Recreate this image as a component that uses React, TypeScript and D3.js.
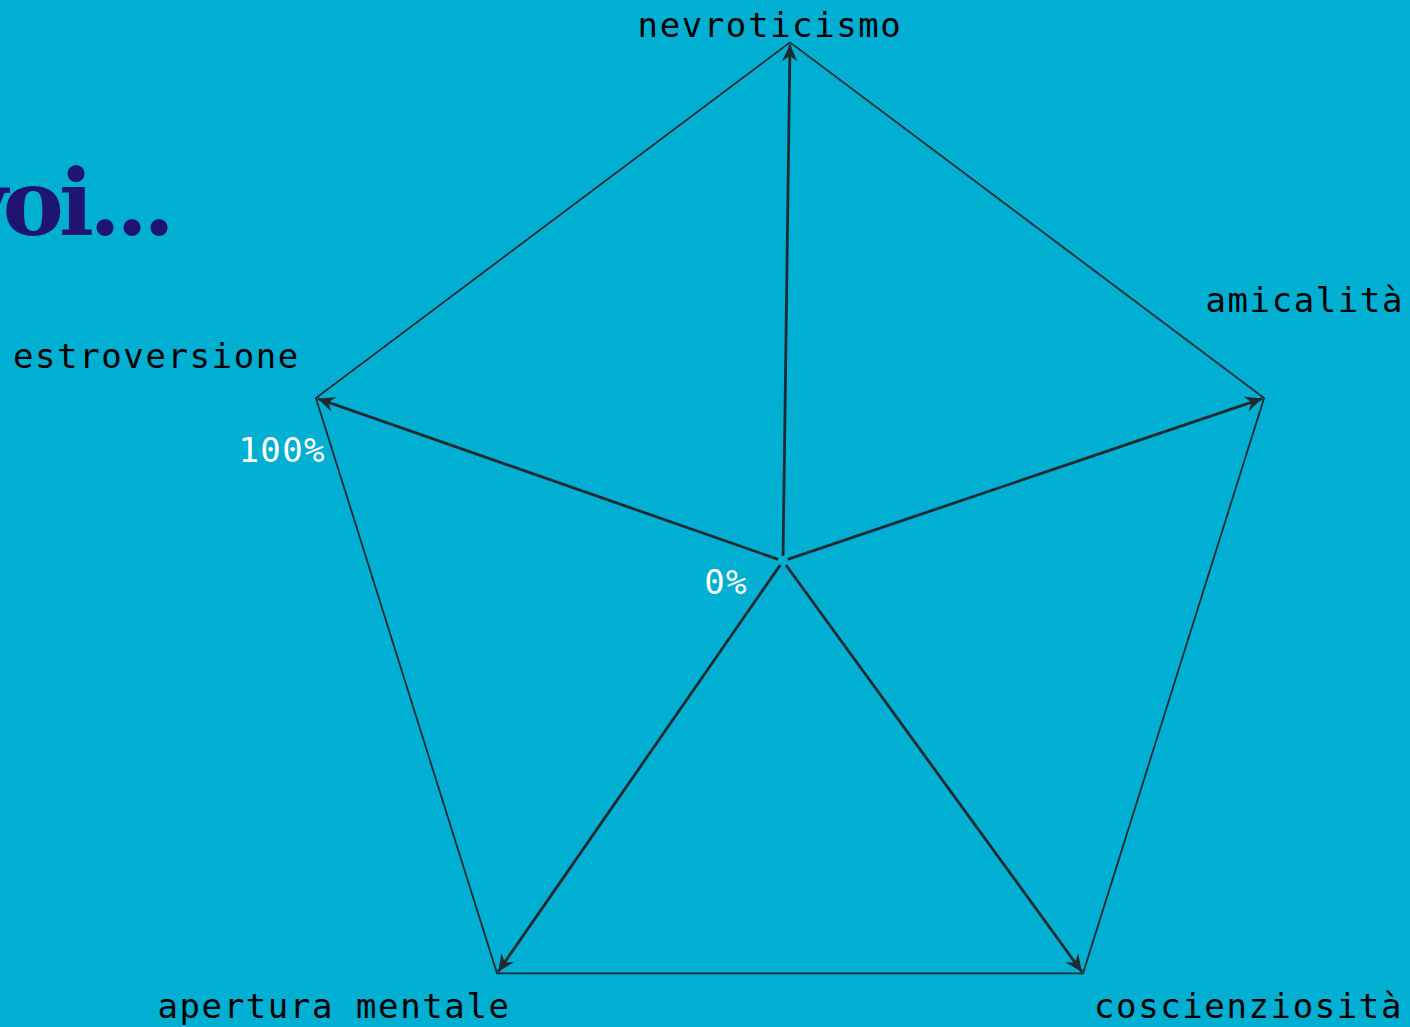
import React, { useEffect, useRef } from 'react';
import * as d3 from 'd3';

// axes of the radar, clockwise from the top
const traits = ['nevroticismo', 'amicalità', 'coscienziosità', 'apertura mentale', 'estroversione'];
const scaleTicks = [0, 100];
const titleText = 'voi...';

const W = 1410;
const H = 1027;
const BG = '#00afd2';
const INK = '#1f2b31';

export default function App() {
  const ref = useRef<SVGSVGElement | null>(null);

  useEffect(() => {
    document.body.style.margin = '0';
    document.body.style.overflow = 'hidden';
    const svg = d3.select(ref.current);
    svg.selectAll('*').remove();

    const cx = 790;
    const cy = 557;
    // the drawing is slightly squeezed horizontally
    const rx = d3.scaleLinear().domain([0, 100]).range([0, 498.5]);
    const ry = d3.scaleLinear().domain([0, 100]).range([0, 514.6]);
    const angle = d3.scaleLinear().domain([0, traits.length]).range([0, 2 * Math.PI]);

    const pt = (i: number, v: number) => {
      const a = angle(i);
      return [cx + Math.sin(a) * rx(v), cy - Math.cos(a) * ry(v)] as [number, number];
    };

    svg.append('rect').attr('width', W).attr('height', H).attr('fill', BG);

    // title, running off the left edge
    svg.append('text')
      .attr('x', 170)
      .attr('y', 235)
      .attr('text-anchor', 'end')
      .style('font-family', '"DejaVu Serif", serif')
      .style('font-weight', 'bold')
      .style('font-size', '92px')
      .style('letter-spacing', '-5px')
      .attr('fill', '#1f1470')
      .text(titleText);

    svg.append('defs').append('marker')
      .attr('id', 'head')
      .attr('viewBox', '0 0 12 12')
      .attr('refX', 12)
      .attr('refY', 6)
      .attr('markerWidth', 17)
      .attr('markerHeight', 17)
      .attr('markerUnits', 'userSpaceOnUse')
      .attr('orient', 'auto')
      .append('path')
      .attr('d', 'M0,0.5 L12,6 L0,11.5 L4,6 Z')
      .attr('fill', INK);

    // outline
    const outline = traits.map((_, i) => pt(i, 100));
    svg.append('path')
      .attr('d', d3.line()([...outline, outline[0]]))
      .attr('fill', 'none')
      .attr('stroke', INK)
      .attr('stroke-width', 1.8)
      .attr('stroke-linejoin', 'miter');

    // arrows from a slightly offset origin to each vertex
    const ox = cx - 7;
    const oy = cy + 4;
    traits.forEach((_, i) => {
      const [tx, ty] = pt(i, 100);
      const len = Math.hypot(tx - ox, ty - oy);
      const ux = (tx - ox) / len;
      const uy = (ty - oy) / len;
      svg.append('line')
        .attr('x1', ox + ux * 5)
        .attr('y1', oy + uy * 5)
        .attr('x2', tx - ux * 2)
        .attr('y2', ty - uy * 2)
        .attr('stroke', INK)
        .attr('stroke-width', 2.8)
        .attr('marker-end', 'url(#head)');
    });

    const mono = '"DejaVu Sans Mono", monospace';
    const labelOffset = [
      { dx: -20, dy: -5, anchor: 'middle' },
      { dx: 140, dy: -86, anchor: 'end' },
      { dx: 11, dy: 45, anchor: 'start' },
      { dx: -163, dy: 45, anchor: 'middle' },
      { dx: -16, dy: -30, anchor: 'end' },
    ];
    traits.forEach((t, i) => {
      const [x, y] = pt(i, 100);
      const o = labelOffset[i];
      svg.append('text')
        .attr('x', x + o.dx)
        .attr('y', y + o.dy)
        .attr('text-anchor', o.anchor)
        .style('font-family', mono)
        .style('font-size', '34px')
        .style('letter-spacing', '1.6px')
        .attr('fill', '#000')
        .text(t);
    });

    // scale labels along the estroversione axis
    const tickPos = [
      { x: ox - 35, y: oy + 33 },
      { x: pt(4, 100)[0] + 10, y: pt(4, 100)[1] + 64 },
    ];
    scaleTicks.forEach((v, i) => {
      svg.append('text')
        .attr('x', tickPos[i].x)
        .attr('y', tickPos[i].y)
        .attr('text-anchor', 'end')
        .style('font-family', mono)
        .style('font-size', '34px')
        .style('letter-spacing', '1.4px')
        .attr('fill', '#fff')
        .text(`${v}%`);
    });
  }, []);

  return <svg ref={ref} width={W} height={H} style={{ display: 'block' }} />;
}
